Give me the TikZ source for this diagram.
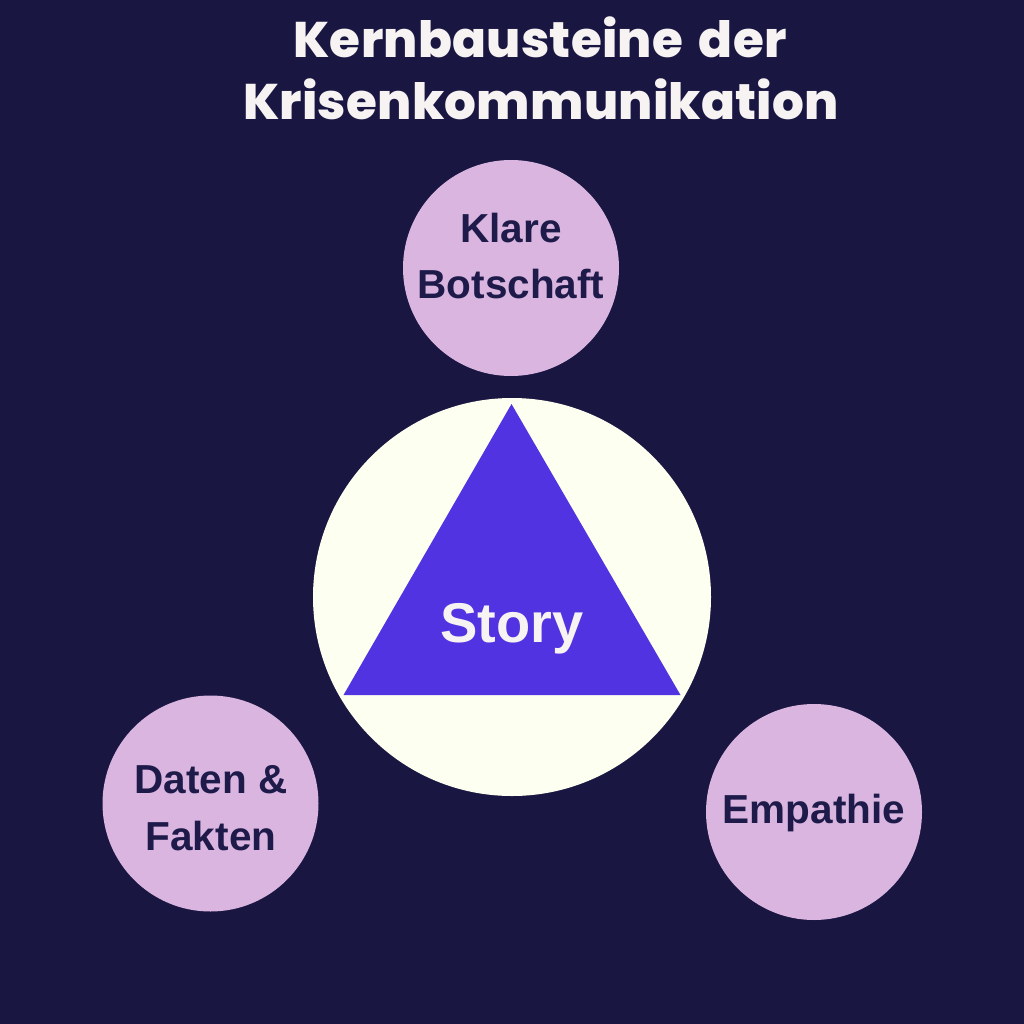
\documentclass[tikz,border=0pt]{standalone}
\usepackage{fontspec}
\setmainfont{Liberation Sans}
\newfontfamily\titlefont{Poppins}[BoldFont=* ExtraBold, WordSpace=1.6, LetterSpace=0.5]
\definecolor{bg}{HTML}{1A1642}
\definecolor{lav}{HTML}{D9B5DF}
\definecolor{cream}{HTML}{FDFFF0}
\definecolor{tri}{HTML}{5233E2}
\definecolor{navytext}{HTML}{1E1B4B}
\definecolor{titlecol}{HTML}{F7F3F3}
\tikzset{
  x=1pt, y=-1pt,
  bubble/.style={circle, fill=lav, draw=none, minimum size=216pt, inner sep=0pt},
  lbl/.style={font=\fontsize{40.5}{44}\selectfont\bfseries, text=navytext, inner sep=0pt, anchor=base},
  ttl/.style={font=\titlefont\fontsize{50}{60}\selectfont\bfseries, text=titlecol, inner sep=0pt, anchor=base},
}
\begin{document}
\begin{tikzpicture}
\fill[bg] (0,0) rectangle (1024,1024);
\useasboundingbox (0,0) rectangle (1024,1024);
% title
\node[ttl] (t1) at (540,58) {Kernbausteine der};
\node[ttl] (t2) at (541,120) {Krisenkommunikation};
% centre
\node[circle, fill=cream, minimum size=398pt, inner sep=0pt] (core) at (512,597) {};
\coordinate (ta) at (511.5,404);
\coordinate (tl) at (343.5,695);
\coordinate (tr) at (680.5,695);
\fill[tri] (ta) -- (tl) -- (tr) -- cycle;
\node[font=\fontsize{56}{60}\selectfont\bfseries, text=titlecol, inner sep=0pt, anchor=base] (story) at (512,642) {Story};
% bubbles
\node[bubble] (kb) at (511,268) {};
\node[lbl] (kb1) at (511,242) {Klare};
\node[lbl] (kb2) at (511,298) {Botschaft};
\node[bubble] (df) at (210.5,803.5) {};
\node[lbl] (df1) at (211,793) {Daten \&};
\node[lbl] (df2) at (211,850) {Fakten};
\node[bubble] (emp) at (814,812) {};
\node[lbl] (emp1) at (814,823) {Empathie};
\end{tikzpicture}
\end{document}
